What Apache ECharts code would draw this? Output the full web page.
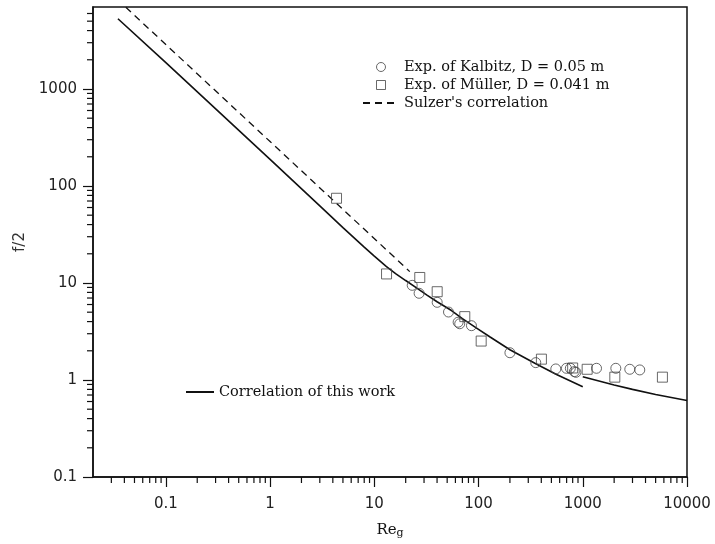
<!DOCTYPE html>
<html>
<head>
<meta charset="utf-8">
<script src="https://cdn.jsdelivr.net/npm/echarts@6/dist/echarts.min.js"></script>
<style>
  html, body { margin: 0; padding: 0; background: #fff; }
  #chart { width: 715px; height: 544px; }
</style>
</head>
<body>
<div id="chart"></div>
<script>
// values (Re_g, f/2)
const kalbitzRe = [23.1, 26.9, 40.1, 51.5, 63.7, 66, 85.5, 200, 354, 551, 697, 760, 830, 860, 1355, 2075, 2825, 3523];
const kalbitzF = [9.46, 7.83, 6.32, 5.02, 3.94, 3.8, 3.63, 1.91, 1.51, 1.30, 1.32, 1.32, 1.22, 1.2, 1.32, 1.32, 1.29, 1.27];

const mullerRe = [4.34, 13.1, 27.3, 40.1, 73.8, 106, 401, 800, 1102, 2030, 5810];
const mullerF = [74.7, 12.4, 11.4, 8.13, 4.5, 2.52, 1.64, 1.33, 1.29, 1.07, 1.07];

const sulzerRe = [0.0413, 1, 21.9];
const sulzerF = [6950, 287, 13.1];

const workLowRe = [0.0347, 0.1, 1, 3, 5, 8, 10, 13, 16, 20, 25, 32, 40, 55, 70, 95, 128, 200, 347, 560, 1000];
const workLowF = [5300, 1870, 188, 62.3, 37.2, 23.4, 18.9, 14.8, 12.5, 10.6, 9.0, 7.5, 6.4, 5.2, 4.3, 3.45, 2.79, 2.05, 1.49, 1.14, 0.85];
const workHighRe = [1000, 2000, 3000, 5000, 10000];
const workHighF = [1.08, 0.89, 0.80, 0.71, 0.615];

const xMin = 0.02, xMax = 10000;
const yMin = 0.1, yMax = 7000;
const xDecades = [0.01, 0.1, 1, 10, 100, 1000];
const yDecades = [0.1, 1, 10, 100, 1000];
const minorSteps = [2, 3, 4, 5, 6, 7, 8, 9];

const kalbitzName = "Exp. of Kalbitz, D = 0.05 m";
const mullerName = "Exp. of M\u00fcller, D = 0.041 m";
const sulzerName = "Sulzer's correlation";
const workName = "Correlation of this work";

const zip = (xs, ys) => xs.map((x, i) => [x, ys[i]]);
const fmt = (v) => String(+Number(v).toPrecision(6));

const xMinor = [];
xDecades.forEach((d) => minorSteps.forEach((m) => {
  const v = +(d * m).toPrecision(6);
  if (v > xMin && v < xMax) xMinor.push([v, yMin]);
}));
const yMinor = [];
yDecades.forEach((d) => minorSteps.forEach((m) => {
  const v = +(d * m).toPrecision(6);
  if (v > yMin && v < yMax) yMinor.push([xMin, v]);
}));

const ink = "#111";
const markerStroke = "#444";
const squareIcon = "path://M0,0L10,0L10,10L0,10Z";
const legendText = { fontFamily: "DejaVu Serif", fontSize: 14.5, color: ink, lineHeight: 18 };

const chart = echarts.init(document.getElementById("chart"), null, { renderer: "canvas" });
chart.setOption({
  animation: false,
  backgroundColor: "#fff",
  grid: {
    left: 93, right: 28, top: 7, bottom: 67,
    containLabel: false,
    outerBoundsMode: "none",
    show: true, borderColor: ink, borderWidth: 1.5, backgroundColor: "transparent",
  },
  xAxis: {
    type: "log",
    logBase: 10,
    min: xMin,
    max: xMax,
    name: "{r|Re}{s|g}",
    nameLocation: "middle",
    nameGap: 44,
    nameTextStyle: {
      rich: {
        r: { fontFamily: "DejaVu Serif", fontSize: 15, color: ink, lineHeight: 18 },
        s: { fontFamily: "DejaVu Serif", fontSize: 11, color: ink, lineHeight: 8, verticalAlign: "bottom" },
      },
    },
    axisLine: { show: true, lineStyle: { color: ink, width: 1.5 } },
    axisTick: { show: true, length: 10, lineStyle: { color: ink, width: 1.2 } },
    axisLabel: {
      margin: 20, fontFamily: "DejaVu Sans", fontSize: 15, color: "#222",
      showMinLabel: false, formatter: fmt,
    },
    splitLine: { show: false },
  },
  yAxis: {
    type: "log",
    logBase: 10,
    min: yMin,
    max: yMax,
    name: "f/2",
    nameLocation: "middle",
    nameGap: 62,
    nameTextStyle: { fontFamily: "DejaVu Sans", fontSize: 15, color: "#333" },
    axisLine: { show: true, lineStyle: { color: ink, width: 1.5 } },
    axisTick: { show: true, length: 10, lineStyle: { color: ink, width: 1.2 } },
    axisLabel: {
      margin: 16, fontFamily: "DejaVu Sans", fontSize: 15, color: "#222",
      showMaxLabel: false, formatter: fmt,
    },
    splitLine: { show: false },
  },
  legend: [
    {
      orient: "vertical",
      left: 362,
      top: 58,
      padding: 0,
      itemWidth: 36,
      itemHeight: 9,
      itemGap: 0,
      selectedMode: false,
      textStyle: legendText,
      data: [
        { name: kalbitzName, icon: "circle", itemStyle: { color: "transparent", borderColor: markerStroke, borderWidth: 1 } },
        { name: mullerName, icon: squareIcon, itemStyle: { color: "transparent", borderColor: markerStroke, borderWidth: 1 } },
        { name: sulzerName, itemStyle: { opacity: 0 } },
      ],
    },
    {
      orient: "vertical",
      left: 185,
      top: 383,
      padding: 0,
      itemWidth: 28,
      itemHeight: 9,
      selectedMode: false,
      textStyle: legendText,
      data: [{ name: workName, itemStyle: { opacity: 0 } }],
    },
  ],
  series: [
    {
      name: workName,
      type: "line",
      data: zip(workLowRe, workLowF),
      symbol: "none",
      lineStyle: { color: ink, width: 1.6 },
      itemStyle: { color: ink },
      z: 3,
    },
    {
      name: workName,
      type: "line",
      data: zip(workHighRe, workHighF),
      symbol: "none",
      lineStyle: { color: ink, width: 1.6 },
      itemStyle: { color: ink },
      z: 3,
    },
    {
      name: sulzerName,
      type: "line",
      data: zip(sulzerRe, sulzerF),
      symbol: "none",
      lineStyle: { color: ink, width: 1.3, type: [7, 5] },
      itemStyle: { color: ink },
      z: 3,
    },
    {
      name: kalbitzName,
      type: "scatter",
      data: zip(kalbitzRe, kalbitzF),
      symbol: "circle",
      symbolSize: 10,
      itemStyle: { color: "transparent", borderColor: markerStroke, borderWidth: 1 },
      z: 4,
    },
    {
      name: mullerName,
      type: "scatter",
      data: zip(mullerRe, mullerF),
      symbol: squareIcon,
      symbolSize: 10,
      itemStyle: { color: "transparent", borderColor: markerStroke, borderWidth: 1 },
      z: 4,
    },
    {
      name: "xMinorTicks",
      type: "custom",
      data: xMinor,
      silent: true,
      clip: false,
      renderItem: (params, api) => {
        const p = api.coord([api.value(0), api.value(1)]);
        return { type: "line", shape: { x1: p[0], y1: p[1], x2: p[0], y2: p[1] + 6 }, style: { stroke: ink, lineWidth: 1.2 } };
      },
    },
    {
      name: "yMinorTicks",
      type: "custom",
      data: yMinor,
      silent: true,
      clip: false,
      renderItem: (params, api) => {
        const p = api.coord([api.value(0), api.value(1)]);
        return { type: "line", shape: { x1: p[0] - 6, y1: p[1], x2: p[0], y2: p[1] }, style: { stroke: ink, lineWidth: 1.2 } };
      },
    },
  ],
});
</script>
</body>
</html>
